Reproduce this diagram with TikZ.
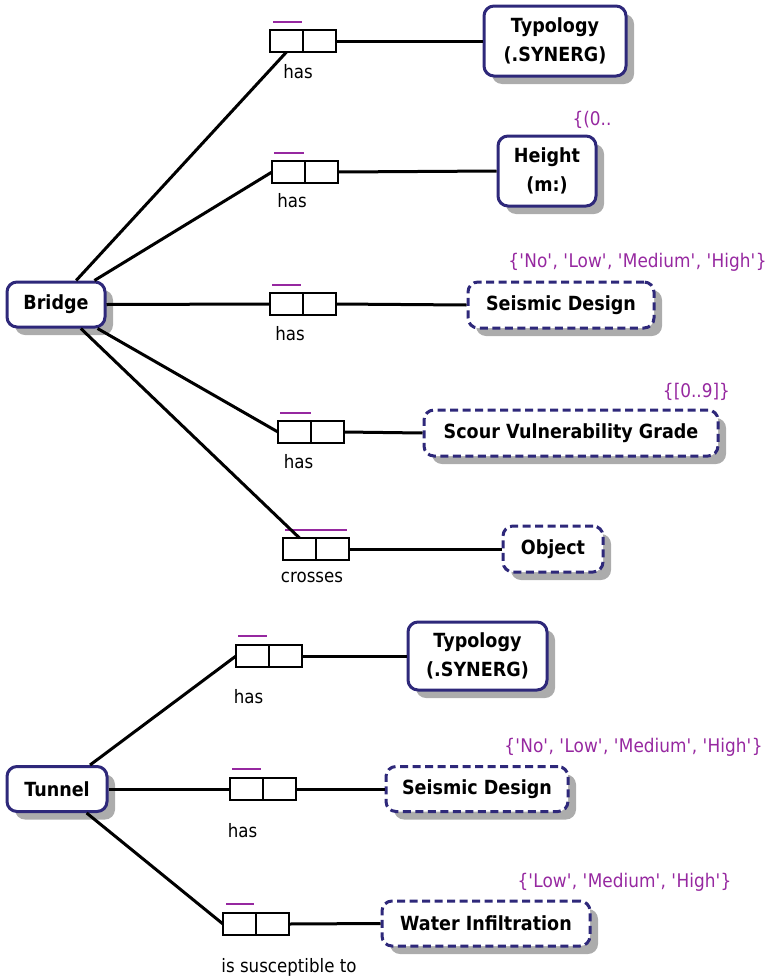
\documentclass[tikz,border=0pt]{standalone}
\usepackage{fontspec}
\setmainfont{DejaVu Sans}[FakeStretch=0.9]
\usetikzlibrary{shadows,calc}
\definecolor{navy}{RGB}{46,40,122}
\definecolor{valpurple}{RGB}{150,40,160}
\definecolor{shadowgray}{RGB}{172,172,172}
\newcommand\sq{\textquotesingle}
\tikzset{
  entity/.style={draw=navy, line width=3pt, fill=white, rounded corners=10pt,
    align=center, inner sep=0pt,
    font=\fontsize{19.5}{29}\selectfont\bfseries,
    drop shadow={shadow xshift=8pt, shadow yshift=-8pt, fill=shadowgray, opacity=1}},
  attr/.style={entity, dashed, dash pattern=on 8pt off 4.5pt},
  cell/.style={draw=black, line width=2.5pt, minimum width=33pt, minimum height=22pt,
    inner sep=0pt, outer sep=0pt},
  link/.style={draw=black, line width=3pt},
  bar/.style={draw=valpurple, line width=2.8pt},
  rlabel/.style={anchor=base, inner sep=0pt, font=\fontsize{18.5}{22}\selectfont},
  vlabel/.style={anchor=base, inner sep=0pt, text=valpurple, font=\fontsize{18.8}{22}\selectfont},
}
\begin{document}
\begin{tikzpicture}[x=1pt, y=-1pt]
\useasboundingbox (0,0) rectangle (770,980);

% ---------- Bridge ----------
\node[entity, minimum width=98pt, minimum height=45pt] (bridge) at (56,304.5) {Bridge};

\node[entity, minimum width=142pt, minimum height=70pt] (btyp) at (555,41) {Typology\\(.SYNERG)};
\node[entity, minimum width=98pt, minimum height=70pt] (bheight) at (547,171) {Height\\(m:)};
\node[attr, minimum width=186pt, minimum height=46pt] (bseis) at (561,305) {Seismic Design};
\node[attr, minimum width=294pt, minimum height=46pt] (bscour) at (571,433) {Scour Vulnerability Grade};
\node[attr, minimum width=100pt, minimum height=46pt] (bobj) at (553,549) {Object};

% relation boxes
\node[cell] (r1a) at (286.5,41) {};   \node[cell] (r1b) at (319.5,41) {};
\node[cell] (r2a) at (288.5,172) {};  \node[cell] (r2b) at (321.5,172) {};
\node[cell] (r3a) at (286.5,304) {};  \node[cell] (r3b) at (319.5,304) {};
\node[cell] (r4a) at (294.5,432) {};  \node[cell] (r4b) at (327.5,432) {};
\node[cell] (r5a) at (299.5,549) {};  \node[cell] (r5b) at (332.5,549) {};

% cardinality bars
\draw[bar] ($(r1a.north west)+(3,-8)$) -- +(29,0);
\draw[bar] ($(r2a.north west)+(2,-8)$) -- +(30,0);
\draw[bar] ($(r3a.north west)+(2,-8)$) -- +(29,0);
\draw[bar] ($(r4a.north west)+(2,-8)$) -- +(31,0);
\draw[bar] ($(r5a.north west)+(2,-8)$) -- +(62,0);

% relation labels
\node[rlabel] (l1) at (298,78) {has};
\node[rlabel] (l2) at (292,207) {has};
\node[rlabel] (l3) at (290,340) {has};
\node[rlabel] (l4) at (298.5,468) {has};
\node[rlabel] (l5) at (312,582) {crosses};

% value ranges
\node[vlabel] (v1) at (592,125) {\{(0..};
\node[vlabel] (v2) at (637.5,267) {\{\sq No\sq, \sq Low\sq, \sq Medium\sq, \sq High\sq\}};
\node[vlabel] (v3) at (696.5,397) {\{[0..9]\}};

% connectors
\draw[link] (bridge.50) -- (r1a.south);
\draw[link] (bridge.32) -- (r2a.west);
\draw[link] (bridge.east) -- (r3a.west);
\draw[link] (bridge.-30) -- (r4a.west);
\draw[link] (bridge.-44) -- (r5a.north);
\draw[link] (r1b.east) -- (btyp.west);
\draw[link] (r2b.east) -- (bheight.west);
\draw[link] (r3b.east) -- (bseis.west);
\draw[link] (r4b.east) -- (bscour.west);
\draw[link] (r5b.east) -- (bobj.west);

% ---------- Tunnel ----------
\node[entity, minimum width=100pt, minimum height=45pt] (tunnel) at (57,789) {Tunnel};

\node[entity, minimum width=139pt, minimum height=68pt] (ttyp) at (477.5,656) {Typology\\(.SYNERG)};
\node[attr, minimum width=182pt, minimum height=45pt] (tseis) at (477,789) {Seismic Design};
\node[attr, minimum width=208pt, minimum height=45pt] (twater) at (486,923.5) {Water Infiltration};

\node[cell] (t1a) at (252.5,656) {};  \node[cell] (t1b) at (285.5,656) {};
\node[cell] (t2a) at (246.5,789) {};  \node[cell] (t2b) at (279.5,789) {};
\node[cell] (t3a) at (239.5,924) {};  \node[cell] (t3b) at (272.5,924) {};

\draw[bar] ($(t1a.north west)+(2,-9)$) -- +(29,0);
\draw[bar] ($(t2a.north west)+(2,-9)$) -- +(29,0);
\draw[bar] ($(t3a.north west)+(3,-9)$) -- +(28,0);

\node[rlabel] (tl1) at (248.5,703) {has};
\node[rlabel] (tl2) at (242.5,837) {has};
\node[rlabel] (tl3) at (289,972) {is susceptible to};

\node[vlabel] (tv1) at (633.5,752) {\{\sq No\sq, \sq Low\sq, \sq Medium\sq, \sq High\sq\}};
\node[vlabel] (tv2) at (624.5,887) {\{\sq Low\sq, \sq Medium\sq, \sq High\sq\}};

\draw[link] (tunnel.36) -- (t1a.west);
\draw[link] (tunnel.east) -- (t2a.west);
\draw[link] (tunnel.-39) -- (t3a.west);
\draw[link] (t1b.east) -- (ttyp.west);
\draw[link] (t2b.east) -- (tseis.west);
\draw[link] (t3b.east) -- (twater.west);
\end{tikzpicture}
\end{document}
